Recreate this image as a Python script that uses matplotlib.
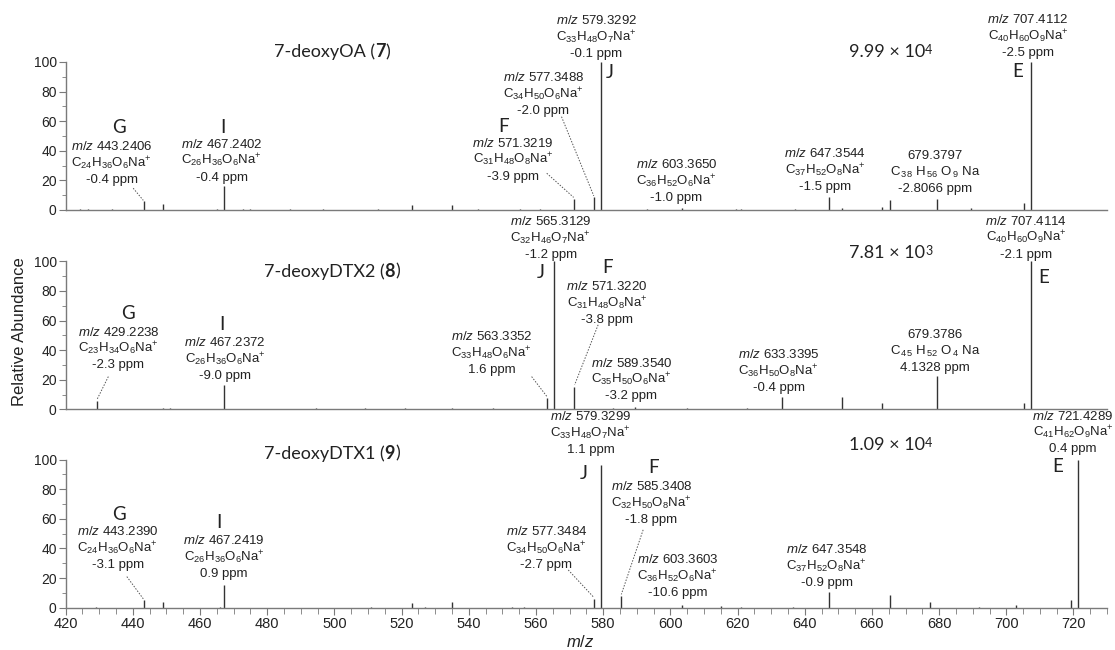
import matplotlib
matplotlib.use('Agg')
import matplotlib.pyplot as plt
from matplotlib.ticker import MultipleLocator
from matplotlib.offsetbox import TextArea, HPacker, AnnotationBbox

plt.rcParams['font.family'] = ['Liberation Sans', 'DejaVu Sans']
plt.rcParams['mathtext.fontset'] = 'custom'
plt.rcParams['mathtext.rm'] = 'Liberation Sans'
plt.rcParams['mathtext.it'] = 'Liberation Sans:italic'
plt.rcParams['mathtext.bf'] = 'Liberation Sans:bold'

# peak lists (m/z, relative abundance)
# 7-deoxyOA (7)
oa_mz = [424.3, 426.7, 433.7, 443.24, 448.9, 464.9, 467.24, 472.9, 474.9, 486.8,
         496.5, 512.9, 523.0, 534.9, 542.7, 555.2, 561.2, 571.32, 577.35, 579.33,
         592.9, 603.37, 619.6, 621.1, 637.2, 647.35, 651.0, 663.1, 665.4, 679.38,
         689.4, 705.4, 707.41]
oa_int = [0.6, 0.5, 0.5, 6.0, 3.8, 0.8, 16.0, 0.6, 0.8, 0.6,
          0.6, 0.8, 3.2, 3.4, 0.8, 0.5, 0.6, 7.4, 8.6, 100,
          0.8, 1.5, 0.8, 0.8, 0.8, 9.0, 1.5, 2.0, 7.0, 7.5,
          1.0, 5.0, 100]

# 7-deoxyDTX2 (8)
dtx2_mz = [425.8, 429.22, 449.0, 451.0, 467.24, 494.5, 509.0, 521.0, 535.0, 547.2,
           563.34, 565.31, 571.32, 583.0, 589.35, 605.0, 622.7, 633.34, 648.5, 651.0,
           663.0, 679.38, 705.3, 707.41]
dtx2_int = [0.5, 5.8, 1.0, 0.6, 16.5, 0.8, 0.6, 0.8, 0.8, 0.6,
            7.9, 100, 15.3, 0.6, 1.5, 0.6, 0.8, 8.5, 0.5, 8.5,
            4.5, 22.5, 4.5, 100]

# 7-deoxyDTX1 (9)
dtx1_mz = [429.0, 443.24, 449.0, 465.8, 467.24, 510.9, 523.0, 527.0, 535.0, 553.0,
           556.5, 577.35, 579.33, 585.34, 603.4, 615.0, 621.0, 636.5, 647.35, 665.4,
           677.4, 692.0, 703.0, 719.4, 721.43]
dtx1_int = [0.5, 5.2, 3.6, 0.6, 15.4, 0.8, 3.0, 0.8, 4.0, 0.8,
            0.8, 5.6, 96.5, 8.0, 1.5, 1.0, 0.8, 0.8, 10.4, 8.6,
            4.0, 0.6, 1.5, 5.2, 100]

names = [("7-deoxyOA (", "7", ")"), ("7-deoxyDTX2 (", "8", ")"), ("7-deoxyDTX1 (", "9", ")")]
totals = [("9.99 × 10", "4"), ("7.81 × 10", "3"), ("1.09 × 10", "4")]

MZ = r"$\mathit{m/z}$ "
oa_notes = [
    (MZ + "443.2406", r"C$_{24}$H$_{36}$O$_{6}$Na$^{+}$", "-0.4 ppm"),
    (MZ + "467.2402", r"C$_{26}$H$_{36}$O$_{6}$Na$^{+}$", "-0.4 ppm"),
    (MZ + "571.3219", r"C$_{31}$H$_{48}$O$_{8}$Na$^{+}$", "-3.9 ppm"),
    (MZ + "577.3488", r"C$_{34}$H$_{50}$O$_{6}$Na$^{+}$", "-2.0 ppm"),
    (MZ + "579.3292", r"C$_{33}$H$_{48}$O$_{7}$Na$^{+}$", "-0.1 ppm"),
    (MZ + "603.3650", r"C$_{36}$H$_{52}$O$_{6}$Na$^{+}$", "-1.0 ppm"),
    (MZ + "647.3544", r"C$_{37}$H$_{52}$O$_{8}$Na$^{+}$", "-1.5 ppm"),
    ("679.3797", r"C$_{\,38}$ H$_{\,56}$ O$_{\,9}$ Na", "-2.8066 ppm"),
    (MZ + "707.4112", r"C$_{40}$H$_{60}$O$_{9}$Na$^{+}$", "-2.5 ppm"),
]
dtx2_notes = [
    (MZ + "429.2238", r"C$_{23}$H$_{34}$O$_{6}$Na$^{+}$", "-2.3 ppm"),
    (MZ + "467.2372", r"C$_{26}$H$_{36}$O$_{6}$Na$^{+}$", "-9.0 ppm"),
    (MZ + "565.3129", r"C$_{32}$H$_{46}$O$_{7}$Na$^{+}$", "-1.2 ppm"),
    (MZ + "571.3220", r"C$_{31}$H$_{48}$O$_{8}$Na$^{+}$", "-3.8 ppm"),
    (MZ + "563.3352", r"C$_{33}$H$_{48}$O$_{6}$Na$^{+}$", "1.6 ppm"),
    (MZ + "589.3540", r"C$_{35}$H$_{50}$O$_{6}$Na$^{+}$", "-3.2 ppm"),
    (MZ + "633.3395", r"C$_{36}$H$_{50}$O$_{8}$Na$^{+}$", "-0.4 ppm"),
    ("679.3786", r"C$_{\,45}$ H$_{\,52}$ O$_{\,4}$ Na", "4.1328 ppm"),
    (MZ + "707.4114", r"C$_{40}$H$_{60}$O$_{9}$Na$^{+}$", "-2.1 ppm"),
]
dtx1_notes = [
    (MZ + "443.2390", r"C$_{24}$H$_{36}$O$_{6}$Na$^{+}$", "-3.1 ppm"),
    (MZ + "467.2419", r"C$_{26}$H$_{36}$O$_{6}$Na$^{+}$", "0.9 ppm"),
    (MZ + "579.3299", r"C$_{33}$H$_{48}$O$_{7}$Na$^{+}$", "1.1 ppm"),
    (MZ + "585.3408", r"C$_{32}$H$_{50}$O$_{8}$Na$^{+}$", "-1.8 ppm"),
    (MZ + "577.3484", r"C$_{34}$H$_{50}$O$_{6}$Na$^{+}$", "-2.7 ppm"),
    (MZ + "603.3603", r"C$_{36}$H$_{52}$O$_{6}$Na$^{+}$", "-10.6 ppm"),
    (MZ + "647.3548", r"C$_{37}$H$_{52}$O$_{8}$Na$^{+}$", "-0.9 ppm"),
    (MZ + "721.4289", r"C$_{41}$H$_{62}$O$_{9}$Na$^{+}$", "0.4 ppm"),
]

INK = '#222222'
AXC = '#7a7a7a'
CAL = 'Lato'  # stand-in for Calibri


def rich(ax, parts, xy, align='baseline'):
    kids = [TextArea(t, textprops=dict(fontfamily=CAL, fontsize=fs, fontweight=w, color=INK))
            for t, fs, w in parts]
    box = HPacker(children=kids, align=align, pad=0, sep=0)
    ab = AnnotationBbox(box, xy, xycoords='data', frameon=False, pad=0,
                        box_alignment=(0.5, 0.5), annotation_clip=False)
    ax.add_artist(ab)


def block(ax, x, y, lines):
    for i, s in enumerate(lines):
        ax.annotate(s, (x, y), xytext=(0, -12 * i), textcoords='offset points',
                    ha='center', va='center', fontsize=9.5, color=INK,
                    annotation_clip=False)


def letter(ax, x, y, s):
    ax.text(x, y, s, fontfamily=CAL, fontsize=13.5, ha='center', va='center',
            color=INK, clip_on=False)


def leader(ax, x0, y0, x1, y1):
    ax.plot([x0, x1], [y0, y1], ls=(0, (1.5, 1.5)), lw=0.7, color='#555555', clip_on=False)


fig = plt.figure(figsize=(11.15, 6.5), dpi=100)
bottoms = [0.677, 0.3703, 0.0651]
axes = [fig.add_axes([0.0589, b, 0.934, 0.2277]) for b in bottoms]
series = [(oa_mz, oa_int), (dtx2_mz, dtx2_int), (dtx1_mz, dtx1_int)]

for i, ax in enumerate(axes):
    mz, inten = series[i]
    ax.vlines(mz, 0, inten, color='#333333', lw=1.0)
    ax.set_xlim(420, 730)
    ax.set_ylim(0, 100)
    for side in ['top', 'right']:
        ax.spines[side].set_visible(False)
    for side in ['left', 'bottom']:
        ax.spines[side].set_color(AXC)
        ax.spines[side].set_linewidth(1.0)
    ax.yaxis.set_major_locator(MultipleLocator(20))
    ax.yaxis.set_minor_locator(MultipleLocator(10))
    ax.tick_params(axis='y', which='major', length=5, color=AXC, labelsize=10, labelcolor=INK, pad=1.5)
    ax.tick_params(axis='y', which='minor', length=3, color=AXC)
    if i < 2:
        ax.tick_params(axis='x', which='both', bottom=False, labelbottom=False)
    else:
        ax.xaxis.set_major_locator(MultipleLocator(20))
        ax.xaxis.set_minor_locator(MultipleLocator(5))
        ax.tick_params(axis='x', which='major', length=5, color=AXC, labelsize=10.5, labelcolor=INK, pad=2)
        ax.tick_params(axis='x', which='minor', length=4, color=AXC)
    a, b, c = names[i]
    head = [(a, 13, 'normal'), (b, 13, 'bold'), (c, 13, 'normal')]
    tot = [(totals[i][0], 13, 'normal'), (totals[i][1], 9, 'normal')]
    ypos = [(106.8, 107.0), (93.2, 105.7), (104.5, 110.2)][i]
    rich(ax, head, (499.2, ypos[0]))
    rich(ax, tot, (665.6, ypos[1]), align='top')

# panel 1: 7-deoxyOA
ax = axes[0]
n = oa_notes
letter(ax, 435.9, 55.4, 'G'); block(ax, 433.7, 42.8, n[0]); leader(ax, 440.1, 14.7, 443.1, 6.5)
letter(ax, 466.7, 55.6, 'I'); block(ax, 466.4, 44.4, n[1])
letter(ax, 550.2, 56.3, 'F'); block(ax, 553.2, 45.1, n[2]); leader(ax, 563.2, 24.8, 571.2, 8.5)
block(ax, 562.2, 89.4, n[3]); leader(ax, 567.6, 63.0, 577.2, 9.5)
letter(ax, 582.0, 92.8, 'J'); block(ax, 578.0, 128.0, n[4])
block(ax, 601.8, 30.4, n[5])
block(ax, 646.0, 38.3, n[6])
block(ax, 678.7, 36.7, n[7])
letter(ax, 703.3, 93.4, 'E'); block(ax, 706.5, 128.4, n[8])

# panel 2: 7-deoxyDTX2
ax = axes[1]
n = dtx2_notes
letter(ax, 438.5, 64.4, 'G'); block(ax, 435.7, 52.2, n[0]); leader(ax, 432.7, 22.1, 429.3, 6.5)
letter(ax, 466.4, 57.1, 'I'); block(ax, 467.4, 45.1, n[1])
letter(ax, 561.5, 92.1, 'J'); block(ax, 564.4, 127.0, n[2])
letter(ax, 581.2, 95.5, 'F'); block(ax, 581.2, 83.0, n[3]); leader(ax, 578.5, 57.1, 571.5, 16.5)
block(ax, 546.8, 49.2, n[4]); leader(ax, 558.7, 22.1, 563.3, 8.5)
block(ax, 588.4, 31.2, n[5])
block(ax, 632.2, 36.8, n[6])
block(ax, 678.7, 50.3, n[7])
letter(ax, 711.0, 88.8, 'E'); block(ax, 706.0, 127.1, n[8])

# panel 3: 7-deoxyDTX1
ax = axes[2]
n = dtx1_notes
letter(ax, 435.9, 63.2, 'G'); block(ax, 435.5, 51.5, n[0]); leader(ax, 438.2, 21.0, 443.1, 6.0)
letter(ax, 465.7, 57.5, 'I'); block(ax, 467.1, 45.2, n[1])
letter(ax, 574.1, 91.0, 'J'); block(ax, 576.3, 129.0, n[2])
letter(ax, 595.1, 94.4, 'F'); block(ax, 594.4, 81.9, n[3]); leader(ax, 591.9, 52.6, 585.4, 9.0)
block(ax, 563.1, 51.5, n[4]); leader(ax, 569.6, 25.5, 577.2, 7.0)
block(ax, 602.1, 32.3, n[5])
block(ax, 646.5, 39.0, n[6])
letter(ax, 715.4, 95.5, 'E'); block(ax, 719.8, 129.5, n[7])

fig.text(20 / 1115, 1 - 331.7 / 650, 'Relative Abundance', rotation=90,
         ha='center', va='center', fontsize=12, color=INK)
fig.text(580 / 1115, 1 - 642 / 650, r'$\mathit{m/z}$', ha='center', va='center',
         fontsize=12, color=INK)

fig.savefig('out.png', dpi=100)
